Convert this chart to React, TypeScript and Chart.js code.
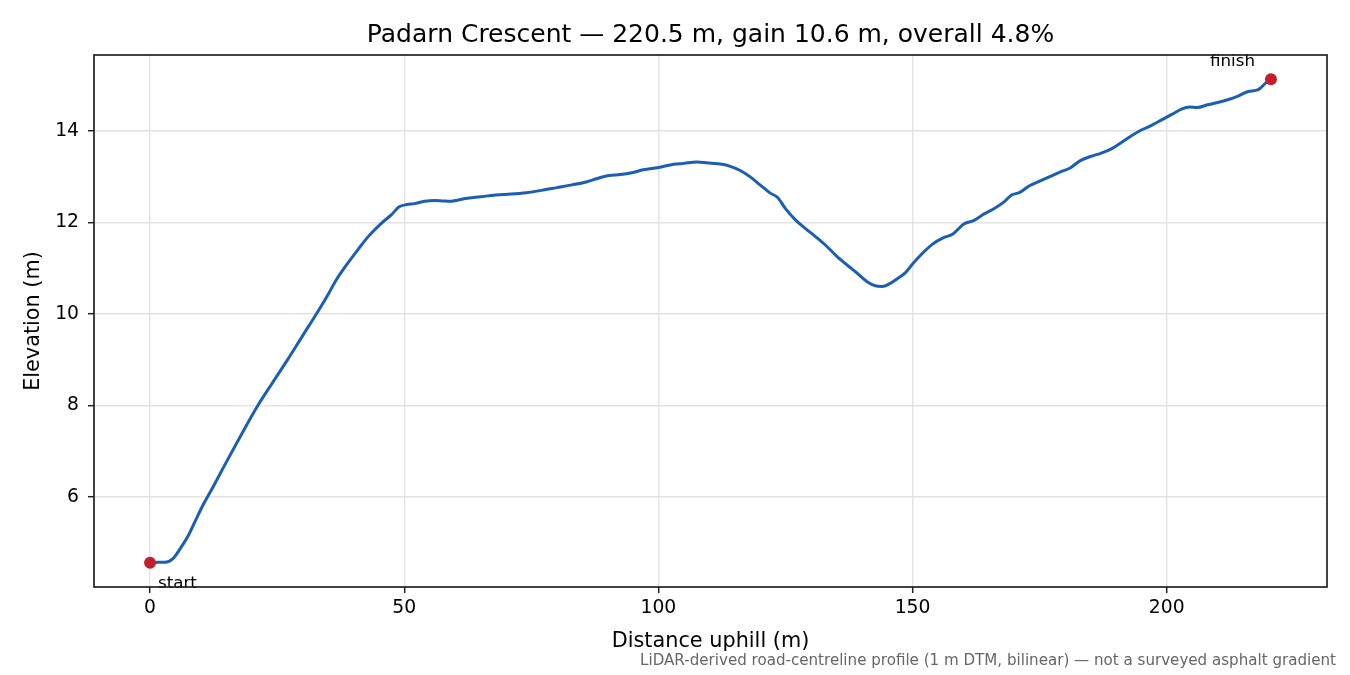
import { useEffect, useRef } from "react";
import { Chart, registerables } from "chart.js";
import type { Plugin } from "chart.js";

Chart.register(...registerables);

// profile (distance in m, elevation in m)
const distance = [
  0, 1.5, 3, 4.5, 6, 7.5, 9, 10.5, 12.5, 15,
  18, 21, 24, 27, 30, 32.5, 35, 36.5, 38.5, 41,
  43, 45.5, 47.5, 49, 50.5, 52, 54, 56, 57.5, 59,
  62, 65, 68, 71, 74, 77, 80, 83, 86, 88,
  90, 93, 95, 97, 100, 103, 105, 107.5, 110, 112.5,
  114, 116, 118, 120, 122, 123.5, 125, 127, 129, 131,
  133, 135, 137, 139, 141, 142.5, 144, 145.5, 147, 148.5,
  150, 152, 154, 156, 158, 160, 162, 164, 166, 168,
  169.5, 171, 173, 175, 177, 179, 181, 183, 185, 187,
  189, 191, 193, 195, 197, 199, 201, 203, 204.5, 206,
  208, 210, 212, 214, 216, 218, 219.5, 220.5,
];
const elevation = [
  4.56, 4.57, 4.57, 4.65, 4.88, 5.15, 5.5, 5.84, 6.24, 6.76,
  7.37, 7.96, 8.48, 8.99, 9.52, 9.96, 10.42, 10.72, 11.05, 11.42,
  11.7, 11.98, 12.17, 12.34, 12.39, 12.41, 12.46, 12.48, 12.47, 12.46,
  12.52, 12.56, 12.6, 12.62, 12.65, 12.7, 12.76, 12.82, 12.89, 12.96,
  13.02, 13.05, 13.09, 13.15, 13.2, 13.27, 13.29, 13.32, 13.3, 13.27,
  13.23, 13.14, 13.0, 12.82, 12.64, 12.54, 12.3, 12.05, 11.86, 11.68,
  11.49, 11.27, 11.08, 10.9, 10.71, 10.62, 10.6, 10.66, 10.77, 10.89,
  11.09, 11.33, 11.53, 11.66, 11.75, 11.96, 12.04, 12.18, 12.3, 12.45,
  12.6, 12.65, 12.8, 12.9, 13.0, 13.1, 13.19, 13.35, 13.44, 13.51,
  13.6, 13.74, 13.89, 14.02, 14.12, 14.24, 14.36, 14.48, 14.52, 14.51,
  14.57, 14.62, 14.68, 14.76, 14.86, 14.9, 15.05, 15.13,
];

const markerDistance = [0, 220.5];
const markerElevation = [4.56, 15.13];
const markerLabels = ["start", "finish"];

const xTicks = [0, 50, 100, 150, 200];
const yTicks = [6, 8, 10, 12, 14];

const titleText = "Padarn Crescent — 220.5 m, gain 10.6 m, overall 4.8%";
const noteText =
  "LiDAR-derived road-centreline profile (1 m DTM, bilinear) — not a surveyed asphalt gradient";

const FONT = "'DejaVu Sans', sans-serif";
const INK = "#222";

// matplotlib-style 5% margins
const xSpan = distance[distance.length - 1] - distance[0];
const yLo = Math.min(...elevation);
const yHi = Math.max(...elevation);
const ySpan = yHi - yLo;

const extras: Plugin<"line"> = {
  id: "extras",
  afterDatasetsDraw(chart) {
    const { ctx, chartArea } = chart;
    const meta = chart.getDatasetMeta(0);
    ctx.save();
    ctx.fillStyle = "#000";
    ctx.font = `16.7px ${FONT}`;
    ctx.textBaseline = "alphabetic";
    meta.data.forEach((pt, i) => {
      if (i === 0) {
        ctx.textAlign = "left";
        ctx.fillText(markerLabels[i], pt.x + 8, pt.y + 25);
      } else {
        ctx.textAlign = "right";
        ctx.fillText(markerLabels[i], pt.x - 16, pt.y - 13);
      }
    });

    // frame on all four sides
    ctx.strokeStyle = INK;
    ctx.lineWidth = 1.7;
    ctx.strokeRect(
      chartArea.left,
      chartArea.top,
      chartArea.right - chartArea.left,
      chartArea.bottom - chartArea.top,
    );

    ctx.font = `25px ${FONT}`;
    ctx.textAlign = "center";
    ctx.fillStyle = "#000";
    ctx.fillText(titleText, (chartArea.left + chartArea.right) / 2, 42);

    ctx.font = `15.1px ${FONT}`;
    ctx.textAlign = "right";
    ctx.fillStyle = "#666";
    ctx.fillText(noteText, 1336, 665);
    ctx.restore();
  },
};

export default function App() {
  const ref = useRef<HTMLCanvasElement>(null);

  useEffect(() => {
    if (!ref.current) return;
    const chart = new Chart(ref.current, {
      type: "line",
      data: {
        datasets: [
          {
            type: "scatter",
            label: "ends",
            data: markerDistance.map((d, i) => ({ x: d, y: markerElevation[i] })),
            backgroundColor: "#c41e2a",
            borderWidth: 0,
            pointRadius: 6,
            showLine: false,
            order: 0,
          },
          {
            label: "profile",
            data: distance.map((d, i) => ({ x: d, y: elevation[i] })),
            borderColor: "#1a5fb4",
            borderWidth: 3,
            pointRadius: 0,
            cubicInterpolationMode: "monotone",
            fill: false,
            order: 1,
          },
        ],
      },
      options: {
        responsive: false,
        animation: false,
        devicePixelRatio: 1,
        layout: { padding: { top: 55, right: 23, bottom: 0, left: 0 } },
        plugins: {
          legend: { display: false },
          tooltip: { enabled: false },
          title: { display: false },
        },
        scales: {
          x: {
            type: "linear",
            min: distance[0] - 0.05 * xSpan,
            max: distance[distance.length - 1] + 0.05 * xSpan,
            afterBuildTicks: (s) => {
              s.ticks = xTicks.map((v) => ({ value: v }));
            },
            afterFit: (s) => {
              s.height = 88;
            },
            grid: {
              color: "#e3e3e3",
              lineWidth: 1.4,
              tickColor: INK,
              tickLength: 6,
              tickWidth: 1.5,
            },
            border: { display: false },
            ticks: {
              color: "#000",
              font: { family: FONT, size: 18.75 },
              padding: 4,
              maxRotation: 0,
            },
            title: {
              display: true,
              text: "Distance uphill (m)",
              color: "#000",
              font: { family: FONT, size: 20.8 },
              padding: { top: 0, bottom: 21 },
            },
          },
          y: {
            type: "linear",
            min: yLo - 0.05 * ySpan,
            max: yHi + 0.05 * ySpan,
            afterBuildTicks: (s) => {
              s.ticks = yTicks.map((v) => ({ value: v }));
            },
            afterFit: (s) => {
              s.width = 94;
            },
            grid: {
              color: "#e3e3e3",
              lineWidth: 1.4,
              tickColor: INK,
              tickLength: 6,
              tickWidth: 1.5,
            },
            border: { display: false },
            ticks: {
              color: "#000",
              font: { family: FONT, size: 18.75 },
              padding: 9,
            },
            title: {
              display: true,
              text: "Elevation (m)",
              color: "#000",
              font: { family: FONT, size: 20.8 },
              padding: { top: 21, bottom: 0 },
            },
          },
        },
      },
      plugins: [extras],
    });
    return () => {
      chart.destroy();
    };
  }, []);

  return (
    <div style={{ position: "fixed", left: 0, top: 0, width: 1350, height: 675, background: "#fff" }}>
      <canvas ref={ref} width={1350} height={675} />
    </div>
  );
}
